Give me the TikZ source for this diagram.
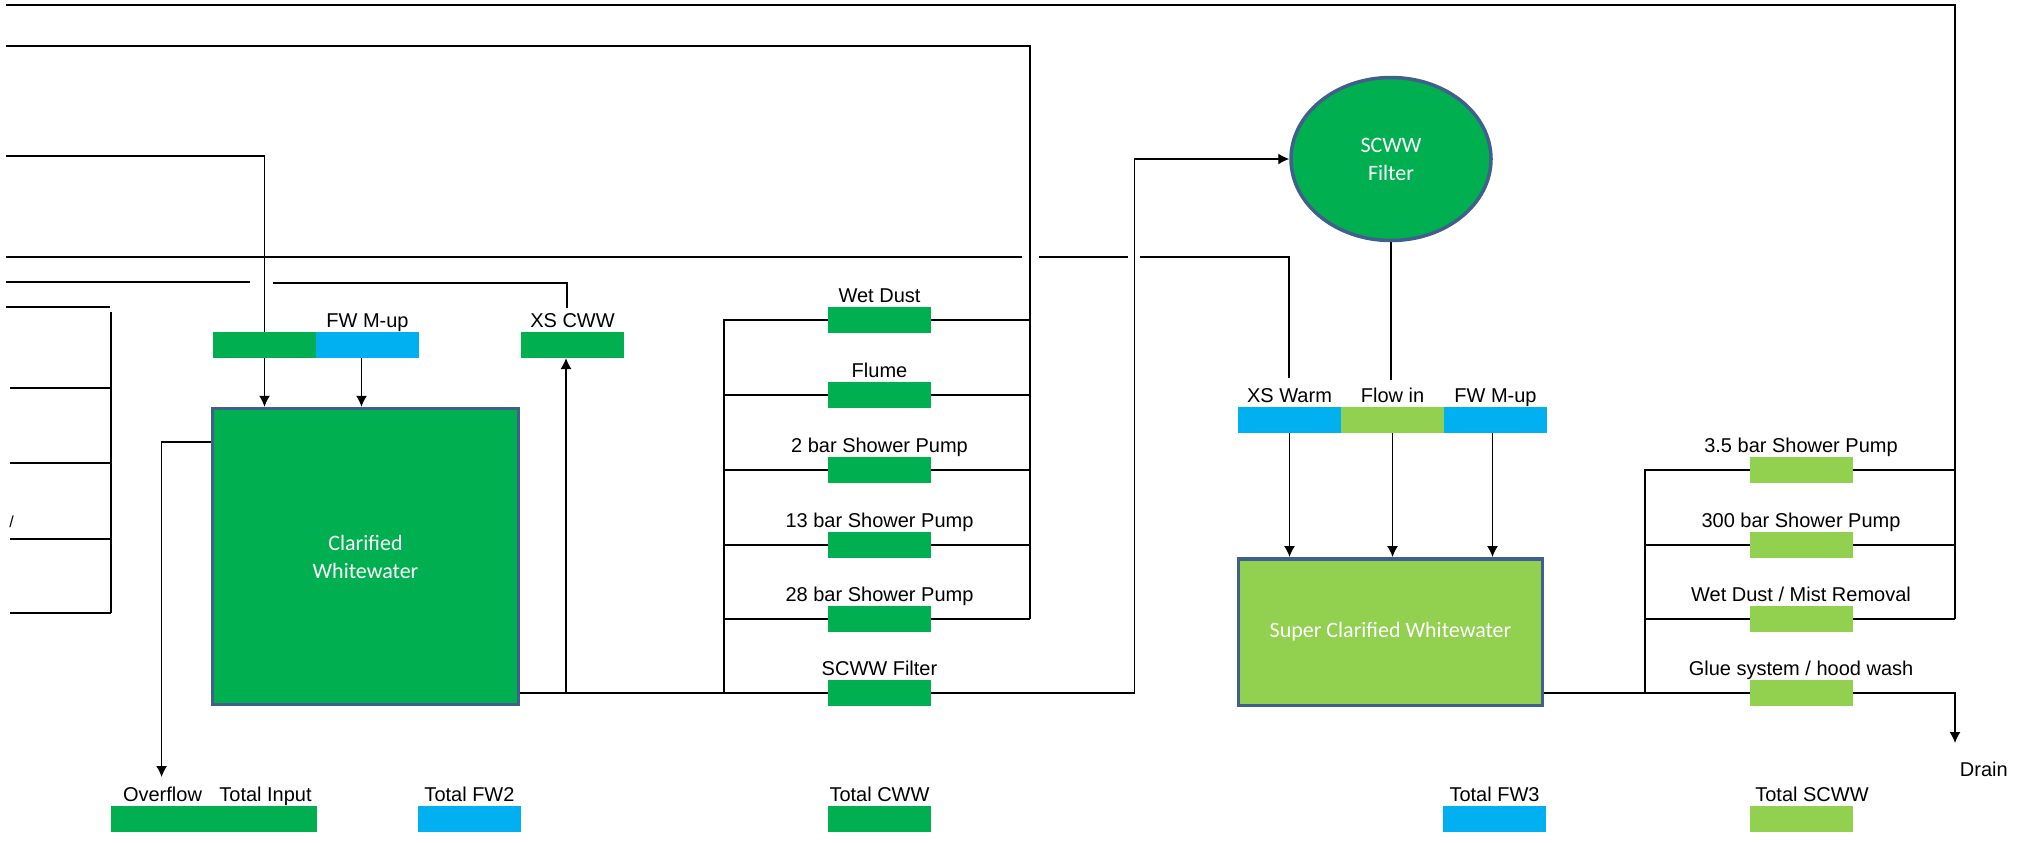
\documentclass[tikz,border=0pt]{standalone}
\usepackage{fontspec}
\setmainfont{Liberation Sans}
\newfontfamily\carlito{Carlito}
\usetikzlibrary{arrows.meta,shapes.geometric,calc}
\definecolor{cwwgreen}{RGB}{0,176,80}
\definecolor{fwblue}{RGB}{0,176,240}
\definecolor{scgreen}{RGB}{146,208,80}
\definecolor{tankedge}{RGB}{65,95,140}

\begin{document}
\begin{tikzpicture}[x=0.5pt,y=-0.5pt,
  pipe/.style={line width=0.7pt},
  flow/.style={pipe,-{Latex[length=5.5pt,width=5.5pt]}},
  meter/.style={minimum width=51.5pt,minimum height=13pt,inner sep=0pt,outer sep=0pt},
  cwwbox/.style={meter,fill=cwwgreen},
  fwbox/.style={meter,fill=fwblue},
  scbox/.style={meter,fill=scgreen},
  tag/.style={anchor=base,inner sep=0pt,font=\fontsize{10}{12}\selectfont},
  tank/.style={draw=tankedge,line width=1.75pt,text=white,align=center,inner sep=0pt,
               font=\carlito\fontsize{11}{14}\selectfont},
]
\useasboundingbox (0,0) rectangle (2022,842);
\fill[white] (0,0) rectangle (2022,842);

% ---------- tanks and filter ----------
\node[tank,fill=cwwgreen,minimum width=153pt,minimum height=148pt] (cwt) at (365.5,556.5) {Clarified\\Whitewater};
\node[tank,fill=scgreen,minimum width=152pt,minimum height=73.25pt] (sct) at (1390.5,632) {Super Clarified Whitewater};
\node[tank,fill=cwwgreen,ellipse,minimum width=100pt,minimum height=81.5pt] (filt) at (1391,159) {SCWW\\Filter};

% ---------- meters: clarified whitewater feed ----------
\node[cwwbox] (cwin) at (264.5,345) {};
\node[fwbox] (fwmup2) at (367.5,345) {};
\node[cwwbox] (xscww) at (572.5,345) {};
\node[tag] (lfwmup2) at ([yshift=2.5pt]fwmup2.north) {FW M-up};
\node[tag] (lxscww) at ([yshift=2.5pt]xscww.north) {XS CWW};

% ---------- meters: CWW users ----------
\node[cwwbox] (wetdust) at (879.5,320) {};
\node[cwwbox] (flume) at (879.5,395) {};
\node[cwwbox] (sp2) at (879.5,470) {};
\node[cwwbox] (sp13) at (879.5,545) {};
\node[cwwbox] (sp28) at (879.5,619) {};
\node[cwwbox] (scwwf) at (879.5,693) {};
\node[cwwbox] (totcww) at (879.5,819) {};
\node[tag] (lwetdust) at ([yshift=2.5pt]wetdust.north) {Wet Dust};
\node[tag] (lflume) at ([yshift=2.5pt]flume.north) {Flume};
\node[tag] (lsp2) at ([yshift=2.5pt]sp2.north) {2 bar Shower Pump};
\node[tag] (lsp13) at ([yshift=2.5pt]sp13.north) {13 bar Shower Pump};
\node[tag] (lsp28) at ([yshift=2.5pt]sp28.north) {28 bar Shower Pump};
\node[tag] (lscwwf) at ([yshift=2.5pt]scwwf.north) {SCWW Filter};
\node[tag] (ltotcww) at ([yshift=2.5pt]totcww.north) {Total CWW};

% ---------- meters: super clarified feed ----------
\node[fwbox] (xswarm) at (1289.5,420) {};
\node[scbox] (flowin) at (1392.5,420) {};
\node[fwbox] (fwmup3) at (1495.5,420) {};
\node[tag] (lxswarm) at ([yshift=2.5pt]xswarm.north) {XS Warm};
\node[tag] (lflowin) at ([yshift=2.5pt]flowin.north) {Flow in};
\node[tag] (lfwmup3) at ([yshift=2.5pt]fwmup3.north) {FW M-up};

% ---------- meters: SCWW users ----------
\node[scbox] (sp35) at (1801,470) {};
\node[scbox] (sp300) at (1801,545) {};
\node[scbox] (mist) at (1801,619) {};
\node[scbox] (glue) at (1801,693) {};
\node[scbox] (totscww) at (1801,819) {};
\node[tag] (lsp35) at ([yshift=2.5pt]sp35.north) {3.5 bar Shower Pump};
\node[tag] (lsp300) at ([yshift=2.5pt]sp300.north) {300 bar Shower Pump};
\node[tag] (lmist) at ([yshift=2.5pt]mist.north) {Wet Dust / Mist Removal};
\node[tag] (lglue) at ([yshift=2.5pt]glue.north) {Glue system / hood wash};
\node[tag] (ltotscww) at ([xshift=5.5pt,yshift=2.5pt]totscww.north) {Total SCWW};

% ---------- totals row ----------
\node[cwwbox] (overflow) at (162.5,819) {};
\node[cwwbox] (totin) at (265.5,819) {};
\node[fwbox] (totfw2) at (469.5,819) {};
\node[fwbox] (totfw3) at (1494.5,819) {};
\node[tag] (loverflow) at ([yshift=2.5pt]overflow.north) {Overflow};
\node[tag] (ltotin) at ([yshift=2.5pt]totin.north) {Total Input};
\node[tag] (ltotfw2) at ([yshift=2.5pt]totfw2.north) {Total FW2};
\node[tag] (ltotfw3) at ([yshift=2.5pt]totfw3.north) {Total FW3};
\node[tag,anchor=base west] (ldrain) at (1959.5,776) {Drain};
\node[tag,font=\fontsize{8}{10}\selectfont] (cut) at (11.5,527) {/};

% ---------- SCWW return header ----------
\coordinate (topL) at (6,5);
\coordinate (topR) at (1955,5);
\coordinate (drain) at (1955,743);
\draw[pipe] (topL) -- (topR) -- (topR |- mist.east);
\draw[pipe] (sp35.east) -- (sp35.east -| topR);
\draw[pipe] (sp300.east) -- (sp300.east -| topR);
\draw[pipe] (mist.east) -- (mist.east -| topR);
\draw[flow] (glue.east) -| (drain);

\coordinate (scj) at (1645,693);
\draw[pipe] (sct.east |- scj) -- (glue.west);
\draw[pipe] (sp35.west) -| (scj);
\draw[pipe] (sp300.west) -- (sp300.west -| scj);
\draw[pipe] (mist.west) -- (mist.west -| scj);

% feeds into the super clarified tank
\coordinate (fw3out) at ([xshift=-1.5pt]fwmup3.south);
\draw[flow] (xswarm.south) -- (xswarm.south |- sct.north);
\draw[flow] (flowin.south) -- (flowin.south |- sct.north);
\draw[flow] (fw3out) -- (fw3out |- sct.north);
\coordinate (flowtop) at (1391,380);
\draw[pipe] (filt.south) -- (flowtop);

% CWW to the SCWW filter
\coordinate (fk) at (1134.5,159);
\draw[flow] (scwwf.east) -| (fk) -- (filt.west);

% warm excess line, with jumps over crossing pipes
\coordinate (l4a) at (6,257);
\coordinate (l4b) at (1021.5,257);
\coordinate (l4c) at (1038.5,257);
\coordinate (l4d) at (1128,257);
\coordinate (l4e) at (1140,257);
\coordinate (l4f) at (1289,257);
\coordinate (xswtop) at (1289,378);
\draw[pipe] (l4a) -- (l4b);
\draw[pipe] (l4c) -- (l4d);
\draw[pipe] (l4e) -- (l4f) -- (xswtop);
\coordinate (l4g) at (110,257);
\coordinate (l4h) at (257,257);
\draw[line width=1pt] (l4g) -- (l4h);

% ---------- CWW header ----------
\coordinate (c2L) at (6,46);
\coordinate (c2R) at (1030,46);
\draw[pipe] (c2L) -- (c2R) -- (c2R |- sp28.east);
\draw[pipe] (wetdust.east) -- (wetdust.east -| c2R);
\draw[pipe] (flume.east) -- (flume.east -| c2R);
\draw[pipe] (sp2.east) -- (sp2.east -| c2R);
\draw[pipe] (sp13.east) -- (sp13.east -| c2R);
\draw[pipe] (sp28.east) -- (sp28.east -| c2R);

\coordinate (cj) at (724,693);
\draw[pipe] (wetdust.west) -| (cj);
\draw[pipe] (flume.west) -- (flume.west -| cj);
\draw[pipe] (sp2.west) -- (sp2.west -| cj);
\draw[pipe] (sp13.west) -- (sp13.west -| cj);
\draw[pipe] (sp28.west) -- (sp28.west -| cj);
\draw[pipe] (cwt.east |- cj) -- (scwwf.west);
\coordinate (xj) at (566,693);
\draw[flow] (xj) -- (xj |- xscww.south);

% ---------- inputs to the clarified tank ----------
\coordinate (l3a) at (6,156);
\draw[pipe] (l3a) -| (cwin.north);
\coordinate (fw2out) at ([xshift=-3pt]fwmup2.south);
\draw[flow] (cwin.south) -- (cwin.south |- cwt.north);
\draw[flow] (fw2out) -- (fw2out |- cwt.north);

\coordinate (l5a) at (6,282);
\coordinate (l5b) at (250,282);
\coordinate (l5c) at (273,283);
\coordinate (l5d) at (567,308);
\draw[pipe] (l5a) -- (l5b);
\draw[pipe] (l5c) -| (l5d);

\coordinate (l6a) at (6,307);
\coordinate (l6b) at (110,307);
\coordinate (v6t) at (111,312);
\coordinate (v6b) at (111,613);
\draw[pipe] (l6a) -- (l6b);
\draw[pipe] (v6t) -- (v6b);
\coordinate (br1) at (10,388);
\coordinate (br2) at (10,463);
\coordinate (br3) at (10,539);
\coordinate (br4) at (10,613);
\draw[pipe] (br1) -- (br1 -| v6t);
\draw[pipe] (br2) -- (br2 -| v6t);
\draw[pipe] (br3) -- (br3 -| v6t);
\draw[pipe] (br4) -- (br4 -| v6t);

% overflow
\coordinate (ovk) at (161.6,442);
\coordinate (ovend) at (161.6,777);
\draw[flow] (cwt.west |- ovk) -- (ovk) -- (ovend);
\end{tikzpicture}
\end{document}
